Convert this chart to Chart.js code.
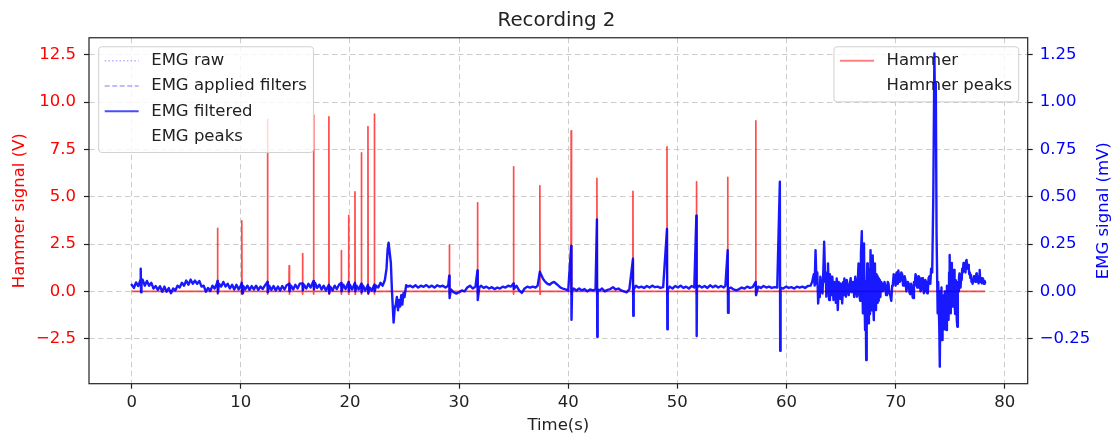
<!DOCTYPE html>
<html>
<head>
<meta charset="utf-8">
<title>Recording 2</title>
<script src="https://cdn.jsdelivr.net/npm/chart.js@4.4.1/dist/chart.umd.min.js"></script>
<style>
  html, body { margin: 0; padding: 0; background: #fff; }
  #wrap { width: 1113px; height: 436px; position: relative; }
</style>
</head>
<body>
<div id="wrap"><canvas id="recChart"></canvas></div>
<script>
// --- DATA ---

const xTicks = [0, 10, 20, 30, 40, 50, 60, 70, 80];
const hammerTicks = [-2.5, 0, 2.5, 5, 7.5, 10, 12.5];
const emgTicks = [-0.25, 0, 0.25, 0.5, 0.75, 1, 1.25];

const xRange = [-3.91, 82.1];
const hammerRange = [-4.88, 13.40];
const emgRange = [-0.488, 1.340];

// Hammer signal (V): [time s, volts]
const hammerSignal = [
  [0, 0],
  [7.84, 0], [7.86, 3.33], [7.88, -0.15], [7.9, 0],
  [10.07, 0], [10.09, 3.73], [10.11, -0.15], [10.13, 0],
  [12.42, 0], [12.44, 9.08], [12.46, -0.15], [12.48, 0],
  [14.41, 0], [14.43, 1.35], [14.45, -0.15], [14.47, 0],
  [15.63, 0], [15.65, 2.0], [15.67, -0.15], [15.69, 0],
  [16.64, 0], [16.66, 9.31], [16.68, -0.15], [16.7, 0],
  [18.05, 0], [18.07, 9.22], [18.09, -0.15], [18.11, 0],
  [19.18, 0], [19.2, 2.15], [19.22, -0.15], [19.24, 0],
  [19.85, 0], [19.87, 4.01], [19.89, -0.15], [19.91, 0],
  [20.44, 0], [20.46, 5.26], [20.48, -0.15], [20.5, 0],
  [21.02, 0], [21.04, 7.32], [21.06, -0.15], [21.08, 0],
  [21.63, 0], [21.65, 8.70], [21.67, -0.15], [21.69, 0],
  [22.21, 0], [22.23, 9.37], [22.25, -0.15], [22.27, 0],
  [29.08, 0], [29.1, 2.45], [29.12, -0.15], [29.14, 0],
  [31.66, 0], [31.68, 4.68], [31.7, -0.15], [31.72, 0],
  [34.96, 0], [34.98, 6.58], [35.0, -0.15], [35.02, 0],
  [37.38, 0], [37.4, 5.58], [37.42, -0.15], [37.44, 0],
  [40.25, 0], [40.27, 8.48], [40.29, -0.15], [40.31, 0],
  [42.61, 0], [42.63, 5.97], [42.65, -0.15], [42.67, 0],
  [45.91, 0], [45.93, 5.28], [45.95, -0.15], [45.97, 0],
  [49.03, 0], [49.05, 7.64], [49.07, -0.15], [49.09, 0],
  [51.72, 0], [51.74, 5.79], [51.76, -0.15], [51.78, 0],
  [54.59, 0], [54.61, 6.02], [54.63, -0.15], [54.65, 0],
  [57.16, 0], [57.18, 9.01], [57.2, -0.15], [57.22, 0],
  [78.2, 0]
];

// EMG filtered (mV): [time s, millivolts]
const emgFiltered = [
  [0.0, .035], [0.2, .018], [0.4, .047], [0.6, .028], [0.8, .06], [0.83, .12], [0.86, -.005], [0.9, .055],
  [1.0, .062], [1.2, .03], [1.4, .055], [1.6, .03], [1.8, .045], [2.0, .015], [2.2, .028], [2.4, .008], [2.6, .027], [2.8, -.002],
  [3.0, .025], [3.2, -.002], [3.4, .017], [3.6, -.01], [3.8, .015], [4.0, .005], [4.2, .03], [4.4, .02], [4.6, .045], [4.8, .03],
  [5.0, .057], [5.2, .035], [5.4, .062], [5.6, .04], [5.8, .057], [6.0, .04], [6.2, .055], [6.4, .025], [6.6, .03], [6.8, -.002],
  [7.0, .018], [7.2, .002], [7.4, .03], [7.6, .015], [7.8, .04], [7.86, .055], [7.9, -.008],
  [8.0, .04], [8.2, .025], [8.4, .05], [8.6, .025], [8.8, .04], [9.0, .015], [9.2, .035], [9.4, .01], [9.6, .035], [9.8, .01],
  [10.0, .03], [10.09, .045], [10.12, -.01], [10.2, .03], [10.4, .01], [10.6, .03], [10.8, .008],
  [11.0, .028], [11.2, .01], [11.4, .03], [11.6, .008], [11.8, .025], [12.0, .012], [12.2, .03], [12.44, .05], [12.47, -.005], [12.6, .03], [12.8, .008],
  [13.0, .028], [13.2, .005], [13.4, .025], [13.6, .005], [13.8, .028], [14.0, .01], [14.2, .032], [14.43, .04], [14.46, 0], [14.6, .03], [14.8, .01],
  [15.0, .035], [15.2, .015], [15.4, .04], [15.65, .042], [15.68, .005], [15.8, .035],
  [16.0, .015], [16.2, .04], [16.4, .02], [16.66, .055], [16.7, .01], [16.8, .045],
  [17.0, .018], [17.2, .035], [17.4, .01], [17.6, .03], [17.8, .005], [18.07, .035], [18.1, -.01], [18.2, .025], [18.4, .005], [18.6, .03], [18.8, .012],
  [19.0, .035], [19.2, .045], [19.23, 0], [19.4, .035], [19.6, .012], [19.87, .05], [19.9, 0],
  [20.0, .035], [20.2, .01], [20.46, .045], [20.5, 0], [20.6, .03], [20.8, .01],
  [21.04, .04], [21.07, -.005], [21.2, .03], [21.4, .005], [21.65, .035], [21.68, -.01], [21.8, .02],
  [22.0, .005], [22.23, .035], [22.26, 0], [22.4, .03], [22.6, .02], [22.8, .045],
  [23.0, .03], [23.2, .06], [23.35, .12], [23.45, .22], [23.54, .257], [23.65, .2], [23.75, .15], [23.85, 0],
  [24.0, -.165], [24.1, -.09], [24.2, -.07], [24.3, -.03], [24.4, -.1], [24.5, -.045], [24.6, -.08], [24.7, -.02], [24.8, -.07], [24.9, -.01],
  [25.0, -.03], [25.15, .033], [25.3, .025],
  [25.5, .03], [25.75, .022], [26.0, .032], [26.25, .02], [26.5, .03], [26.75, .024], [27.0, .033], [27.25, .022], [27.5, .03], [27.75, .02],
  [28.0, .032], [28.25, .025], [28.5, .03], [28.75, .02], [29.0, .03], [29.1, .083], [29.13, -.035], [29.25, .01], [29.5, -.005], [29.75, -.012],
  [30.0, -.005], [30.25, .005], [30.5, 0], [30.75, .02], [31.0, .03], [31.25, .015], [31.5, .025], [31.68, .11], [31.71, -.046], [31.85, .02],
  [32.0, .03], [32.25, .018], [32.5, .025], [32.75, .015], [33.0, .022], [33.25, .012], [33.5, .02], [33.75, .015],
  [34.0, .025], [34.25, .02], [34.5, .03], [34.75, .025], [34.98, .042], [35.01, .012], [35.25, .03], [35.5, .005], [35.75, -.008],
  [36.0, .015], [36.25, .025], [36.5, .02], [36.75, .025], [37.0, .02], [37.2, .03], [37.4, .104], [37.5, .09], [37.7, .065], [37.9, .05],
  [38.1, .04], [38.3, .035], [38.5, .045], [38.7, .05], [38.9, .04], [39.1, .03], [39.3, .02], [39.5, .015], [39.75, .01],
  [40.0, .005], [40.27, .24], [40.3, -.15], [40.35, 0], [40.5, .015], [40.75, .005], [41.0, .015], [41.25, .005], [41.5, .012], [41.75, 0],
  [42.0, .01], [42.25, .005], [42.5, .01], [42.63, .38], [42.66, -.24], [42.7, .01], [42.9, .005],
  [43.1, .015], [43.35, 0], [43.6, .008], [43.85, .012], [44.1, .022], [44.35, .01], [44.6, .015], [44.85, .005],
  [45.1, 0], [45.35, -.005], [45.6, .01], [45.93, .172], [45.96, -.129], [46.0, .01], [46.2, .03], [46.45, .02], [46.7, .025], [46.95, .018],
  [47.2, .028], [47.45, .02], [47.7, .03], [47.95, .022], [48.2, .025], [48.45, .018], [48.7, .022],
  [49.05, .33], [49.08, -.2], [49.12, .01], [49.3, .025], [49.55, .015], [49.8, .028],
  [50.05, .02], [50.3, .03], [50.55, .018], [50.8, .025], [51.05, .015], [51.3, .028], [51.55, .02], [51.74, .40], [51.77, -.236], [51.8, .02],
  [52.0, .03], [52.25, .02], [52.5, .028], [52.75, .018], [53.0, .032], [53.25, .022], [53.5, .03], [53.75, .02],
  [54.0, .028], [54.25, .02], [54.4, .03], [54.61, .218], [54.64, -.113], [54.7, .015], [54.9, .02],
  [55.15, .01], [55.4, .005], [55.65, .012], [55.9, .02], [56.15, .015], [56.4, .025], [56.65, .018], [56.9, .022],
  [57.18, .05], [57.21, -.02], [57.4, .025], [57.65, .018], [57.9, .028], [58.15, .02], [58.4, .025], [58.65, .018], [58.9, .022],
  [59.15, .02], [59.39, .579], [59.42, -.314], [59.46, .02], [59.7, .015], [59.95, .025],
  [60.2, .018], [60.45, .022], [60.7, .015], [60.95, .025], [61.2, .02], [61.45, .025], [61.7, .018], [61.95, .028], [62.2, .03],
  [62.35, .05], [62.5, .09], [62.58, .03], [62.66, .218], [62.75, .04], [62.82, .1], [62.9, -.064], [63.0, .02], [63.05, -.03], [63.1, .077],
  [63.2, .01], [63.3, -.011], [63.38, .12], [63.45, .262], [63.55, .05], [63.6, .1], [63.65, -.028], [63.72, .06], [63.8, .148], [63.9, -.046],
  [63.98, .09], [64.05, .06], [64.12, -.02], [64.2, .077], [64.3, -.046], [64.38, .05], [64.45, .04], [64.52, -.06], [64.6, .068], [64.7, -.099],
  [64.78, .05], [64.85, .02], [64.92, -.04], [64.97, .042], [65.05, .0], [65.1, -.064], [65.2, .05], [65.25, -.02], [65.3, .068], [65.38, .0],
  [65.45, -.028], [65.52, .06], [65.6, .03], [65.7, -.02], [65.8, .04], [65.88, .07], [65.95, -.005], [66.02, .03], [66.1, .05], [66.2, -.03],
  [66.3, .077], [66.38, .02], [66.45, -.028], [66.55, .08], [66.6, .148], [66.68, -.02], [66.75, -.05], [66.82, .2], [66.9, .318], [66.95, .05],
  [67.0, -.116], [67.05, .15], [67.1, .253], [67.15, -.05], [67.2, -.204], [67.25, .05], [67.3, -.363], [67.35, 0], [67.4, .148], [67.45, -.1],
  [67.5, -.169], [67.55, .12], [67.6, .1], [67.65, -.12], [67.7, .218], [67.75, -.05], [67.8, -.1], [67.85, .15], [67.9, .19], [67.95, -.08],
  [68.0, -.152], [68.05, .1], [68.1, .148], [68.15, -.05], [68.2, -.099], [68.25, .09], [68.3, .08], [68.35, -.06], [68.4, -.05], [68.45, .07],
  [68.5, .06], [68.55, -.02], [68.6, -.03], [68.68, .05], [68.75, .04], [68.82, 0], [68.9, .01], [68.98, .05], [69.05, .03], [69.12, -.02],
  [69.2, -.01], [69.28, .05], [69.35, .04], [69.42, -.01], [69.5, -.02], [69.6, -.05], [69.68, .03], [69.75, .04], [69.82, .09], [69.9, .07],
  [70.0, .03], [70.05, .09], [70.1, .1], [70.15, .04], [70.2, .05], [70.25, .11], [70.3, .11], [70.38, .05], [70.45, .06], [70.52, .1],
  [70.6, .09], [70.68, .03], [70.75, .04], [70.82, .08], [70.9, .06], [70.98, .0], [71.05, .02], [71.12, .05], [71.2, .04], [71.28, -.01],
  [71.35, -.015], [71.42, .04], [71.5, .02], [71.55, -.03], [71.6, -.035], [71.68, .05], [71.75, .03], [71.82, .09], [71.9, .08], [71.98, .02],
  [72.05, .02], [72.12, .08], [72.2, .07], [72.28, .0], [72.35, .01], [72.42, .07], [72.5, .06], [72.58, -.01], [72.65, 0], [72.72, .06],
  [72.8, .05], [72.88, -.01], [72.95, 0], [73.02, .07], [73.1, .08], [73.18, .04], [73.25, .12], [73.35, .1], [73.45, .5], [73.55, 1.257],
  [73.62, .9], [73.68, 1.1], [73.75, .3], [73.85, -.116], [73.9, .05], [74.0, -.2], [74.03, 0], [74.06, -.398], [74.1, -.05], [74.15, -.116],
  [74.2, .02], [74.25, -.257], [74.3, -.02], [74.35, -.05], [74.4, -.15], [74.45, -.2], [74.5, 0], [74.55, -.046], [74.6, -.17], [74.65, -.204],
  [74.7, .03], [74.75, .024], [74.8, -.12], [74.85, -.15], [74.9, .1], [74.95, .192], [75.0, -.05], [75.05, -.116], [75.1, .1], [75.15, .15],
  [75.2, -.08], [75.25, -.05], [75.3, .09], [75.35, .113], [75.4, -.06], [75.45, -.12], [75.5, .06], [75.55, .05], [75.6, -.15], [75.65, -.187],
  [75.7, .02], [75.75, 0], [75.8, .07], [75.85, .095], [75.9, .03], [75.95, .02], [76.0, .08], [76.05, .06], [76.1, .12], [76.15, .1],
  [76.22, .15], [76.3, .148], [76.35, .11], [76.4, .1], [76.45, .16], [76.5, .166], [76.55, .12], [76.6, .12], [76.65, .14], [76.7, .121],
  [76.75, .09], [76.8, .1], [76.85, .07], [76.9, .086], [76.95, .05], [77.0, .06], [77.05, .04], [77.1, .05], [77.18, .08], [77.25, .07],
  [77.32, .05], [77.4, .095], [77.45, .06], [77.5, .05], [77.55, .07], [77.6, .042], [77.65, .08], [77.7, .113], [77.75, .06], [77.8, .05],
  [77.85, .07], [77.9, .042], [77.95, .06], [78.0, .068], [78.05, .045], [78.1, .04], [78.15, .055], [78.2, .045]
];

// --- STYLE ---

const FONT_FAMILY = 'DejaVu Sans';
const FONT_SIZE = 16.5;
const TEXT_COLOR = '#222222';
const GRID_COLOR = '#cccccc';
const HAMMER_COLOR = 'rgba(255, 0, 0, 0.7)';
const EMG_COLOR = 'rgba(0, 0, 255, 0.9)';

Chart.defaults.font.family = FONT_FAMILY;
Chart.defaults.font.size = FONT_SIZE;

const emgLegend = [
  { label: 'EMG raw', color: 'rgba(0, 0, 255, 0.3)', dash: [1.5, 2.2], width: 1.5 },
  { label: 'EMG applied filters', color: 'rgba(0, 0, 255, 0.35)', dash: [5, 2.5], width: 1.5 },
  { label: 'EMG filtered', color: 'rgba(0, 0, 255, 0.7)', dash: [], width: 2 },
  { label: 'EMG peaks', color: null }
];
const hammerLegend = [
  { label: 'Hammer', color: 'rgba(255, 0, 0, 0.5)', dash: [], width: 2 },
  { label: 'Hammer peaks', color: null }
];

function minusSign(s) { return s.replace('-', '\u2212'); }

function drawLegendBox(chart, entries, side) {
  const { ctx, chartArea: a } = chart;
  ctx.save();
  ctx.font = FONT_SIZE + 'px "' + FONT_FAMILY + '"';
  const textW = Math.max(...entries.map(e => ctx.measureText(e.label).width));
  const w = 53 + textW + 6;
  const h = entries.length * 25.3 + 4.5;
  const x = side === 'left' ? a.left + 9.7 : a.right - 9 - w;
  const y = a.top + 9;
  const r = 3;
  ctx.beginPath();
  ctx.moveTo(x + r, y);
  ctx.lineTo(x + w - r, y); ctx.quadraticCurveTo(x + w, y, x + w, y + r);
  ctx.lineTo(x + w, y + h - r); ctx.quadraticCurveTo(x + w, y + h, x + w - r, y + h);
  ctx.lineTo(x + r, y + h); ctx.quadraticCurveTo(x, y + h, x, y + h - r);
  ctx.lineTo(x, y + r); ctx.quadraticCurveTo(x, y, x + r, y);
  ctx.closePath();
  ctx.fillStyle = 'rgba(255, 255, 255, 0.8)';
  ctx.fill();
  ctx.strokeStyle = '#d0d0d0';
  ctx.lineWidth = 1;
  ctx.stroke();

  entries.forEach((e, i) => {
    const cy = y + 14 + i * 25.3;
    if (e.color) {
      ctx.beginPath();
      ctx.setLineDash(e.dash);
      ctx.strokeStyle = e.color;
      ctx.lineWidth = e.width;
      ctx.moveTo(x + 6, cy); ctx.lineTo(x + 40, cy);
      ctx.stroke();
    }
    ctx.setLineDash([]);
    ctx.fillStyle = TEXT_COLOR;
    ctx.textBaseline = 'middle';
    ctx.textAlign = 'left';
    ctx.fillText(e.label, x + 52.5, cy);
  });
  ctx.restore();
}

// hammer legend sits under the EMG trace, EMG legend on top of everything
const overlayPlugin = {
  id: 'overlayPlugin',
  beforeDatasetDraw(chart, args) {
    if (args.index === 0) drawLegendBox(chart, hammerLegend, 'right');
  },
  afterDatasetsDraw(chart) {
    drawLegendBox(chart, emgLegend, 'left');
    const { ctx, chartArea: a } = chart;
    ctx.save();
    ctx.strokeStyle = TEXT_COLOR;
    ctx.lineWidth = 1.2;
    ctx.strokeRect(a.left, a.top, a.right - a.left, a.bottom - a.top);
    // right axis title reads bottom-to-top, like the left one
    ctx.translate(1103.5, (a.top + a.bottom) / 2);
    ctx.rotate(-Math.PI / 2);
    ctx.font = FONT_SIZE + 'px "' + FONT_FAMILY + '"';
    ctx.fillStyle = '#0000ff';
    ctx.textAlign = 'center';
    ctx.textBaseline = 'middle';
    ctx.fillText('EMG signal (mV)', 0, 0);
    ctx.restore();
  }
};

const toPoints = arr => arr.map(p => ({ x: p[0], y: p[1] }));

const ctx = document.getElementById('recChart').getContext('2d');
const recChart = new Chart(ctx, {
  type: 'line',
  data: {
    datasets: [
      { label: 'EMG filtered', data: toPoints(emgFiltered), yAxisID: 'y1', borderColor: EMG_COLOR, borderWidth: 2.4,
        pointRadius: 0, tension: 0, borderJoinStyle: 'round', borderCapStyle: 'round', fill: false },
      { label: 'Hammer', data: toPoints(hammerSignal), yAxisID: 'y', borderColor: HAMMER_COLOR, borderWidth: 1.7,
        pointRadius: 0, tension: 0, borderJoinStyle: 'round', fill: false }
    ]
  },
  options: {
    responsive: true, maintainAspectRatio: false, animation: false,
    layout: { padding: 0 },
    plugins: {
      legend: { display: false },
      tooltip: { enabled: false },
      title: { display: true, text: 'Recording 2', color: TEXT_COLOR,
               font: { size: 19.8, weight: 'normal' }, padding: { top: 9, bottom: 5 } }
    },
    scales: {
      x: {
        type: 'linear', min: xRange[0], max: xRange[1],
        afterFit: s => { s.height = 52.3; },
        afterBuildTicks: s => { s.ticks = xTicks.map(v => ({ value: v })); },
        ticks: { color: TEXT_COLOR, padding: 4, maxRotation: 0, autoSkip: false, callback: v => String(v) },
        grid: { color: GRID_COLOR, lineWidth: 1, tickLength: 5, tickColor: TEXT_COLOR, tickWidth: 1.2 },
        border: { display: false, dash: [5.5, 3.5] },
        title: { display: true, text: 'Time(s)', color: TEXT_COLOR, padding: { top: 0, bottom: 0 } }
      },
      y: {
        type: 'linear', position: 'left', min: hammerRange[0], max: hammerRange[1],
        afterFit: s => { s.width = 89; },
        afterBuildTicks: s => { s.ticks = hammerTicks.map(v => ({ value: v })); },
        ticks: { color: '#ff0000', padding: 8, callback: v => minusSign(v.toFixed(1)) },
        grid: { color: GRID_COLOR, lineWidth: 1, tickLength: 5, tickColor: TEXT_COLOR, tickWidth: 1.2 },
        border: { display: false, dash: [5.5, 3.5] },
        title: { display: true, text: 'Hammer signal (V)', color: '#ff0000', padding: { top: 10, bottom: 0 } }
      },
      y1: {
        type: 'linear', position: 'right', min: emgRange[0], max: emgRange[1],
        afterFit: s => { s.width = 85.3; },
        afterBuildTicks: s => { s.ticks = emgTicks.map(v => ({ value: v })); },
        ticks: { color: '#0000ff', padding: 7, callback: v => minusSign(v.toFixed(2)) },
        grid: { drawOnChartArea: false, tickLength: 5, tickColor: TEXT_COLOR, tickWidth: 1.2 },
        border: { display: false },
        title: { display: false }
      }
    }
  },
  plugins: [overlayPlugin]
});
</script>
</body>
</html>
